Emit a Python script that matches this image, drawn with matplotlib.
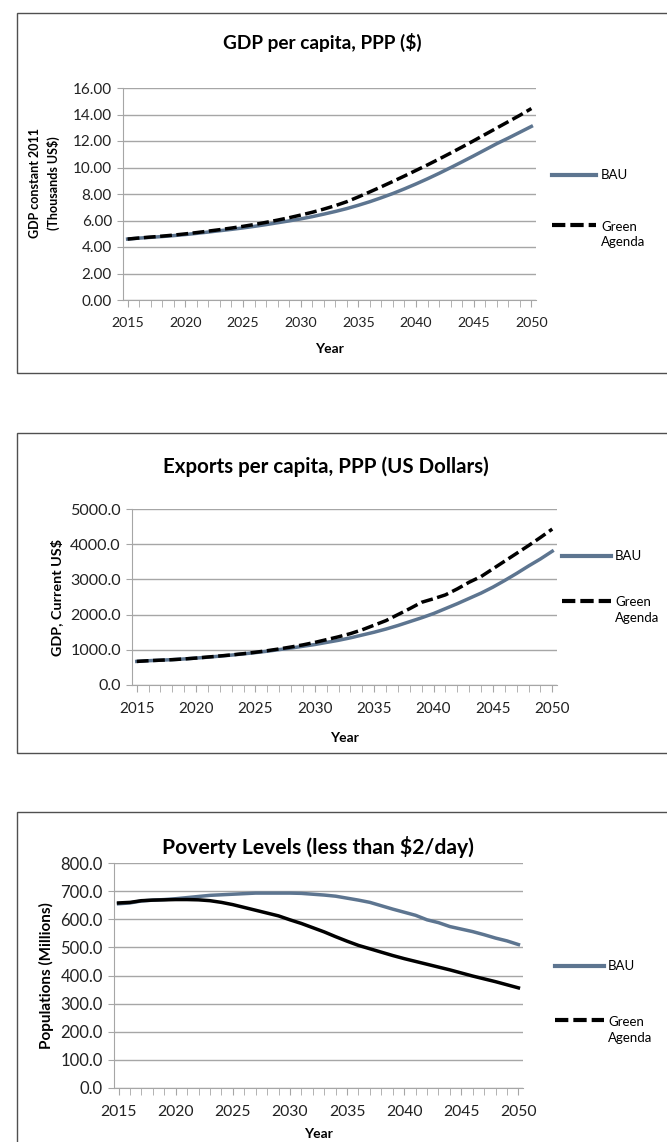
import matplotlib as mpl
import matplotlib.pyplot as plt
from matplotlib.lines import Line2D
from matplotlib.patches import Rectangle
import numpy as np

# Data
years = np.arange(2015, 2051)

gdp_bau = [4.60, 4.67, 4.73, 4.79, 4.86, 4.94, 5.03, 5.13, 5.23, 5.33, 5.44, 5.56,
           5.69, 5.83, 5.97, 6.12, 6.29, 6.48, 6.68, 6.90, 7.15, 7.42, 7.72, 8.04,
           8.39, 8.76, 9.15, 9.56, 9.99, 10.43, 10.88, 11.34, 11.80, 12.22, 12.66, 13.10]
gdp_green = [4.60, 4.68, 4.75, 4.82, 4.90, 4.99, 5.09, 5.20, 5.31, 5.43, 5.56, 5.70,
             5.86, 6.03, 6.21, 6.41, 6.62, 6.86, 7.12, 7.42, 7.78, 8.16, 8.55, 8.95,
             9.36, 9.78, 10.20, 10.64, 11.09, 11.55, 12.02, 12.50, 12.98, 13.46, 13.94, 14.45]

exp_bau = [670, 690, 705, 720, 740, 765, 790, 820, 850, 885, 920, 960,
           1005, 1050, 1100, 1150, 1210, 1270, 1340, 1420, 1500, 1590, 1690, 1800,
           1910, 2030, 2170, 2310, 2460, 2610, 2780, 2970, 3170, 3380, 3580, 3800]
exp_green = [670, 690, 705, 720, 740, 765, 795, 825, 855, 890, 930, 975,
             1025, 1080, 1140, 1210, 1290, 1370, 1460, 1570, 1700, 1830, 2000, 2170,
             2350, 2450, 2560, 2730, 2920, 3080, 3300, 3520, 3740, 3960, 4190, 4430]

pov_bau = [655, 658, 665, 668, 670, 673, 677, 681, 685, 687, 689, 691,
           693, 693, 693, 693, 692, 689, 686, 682, 675, 668, 660, 648,
           636, 625, 614, 598, 588, 574, 565, 556, 545, 533, 523, 510]
pov_green = [658, 660, 666, 668, 669, 670, 670, 669, 666, 660, 652, 642,
             632, 622, 612, 598, 585, 570, 555, 538, 522, 507, 495, 483,
             471, 460, 450, 440, 430, 420, 409, 398, 388, 378, 367, 356]

series_names = ['BAU', 'Green\nAgenda']

# Style
mpl.rcParams['font.family'] = ['Lato', 'DejaVu Sans']
bau_clr = '#5d7590'
grid_clr = '#a6a6a6'
dash = (0, (3.4, 1.3))
W, H = 667, 1142

fig = plt.figure(figsize=(W / 100, H / 100), dpi=100)


def fx(x):
    return x / W


def fy(y):
    return 1 - y / H


def fig_rect(x0, y0, x1, y1):
    # pixel box (top-left origin) -> figure fraction [l, b, w, h]
    return [fx(x0), fy(y1), (x1 - x0) / W, (y1 - y0) / H]


# panel frames
for (y0, y1) in [(13, 373), (433, 753), (812, 1160)]:
    fig.patches.append(Rectangle((fx(17), fy(y1)), (W + 10 - 17) / W, (y1 - y0) / H,
                                 transform=fig.transFigure, fill=False,
                                 edgecolor='#505050', linewidth=1.0))

panels = [
    dict(rect=(123, 88, 536, 300), bau=gdp_bau, green=gdp_green, ymax=16, ystep=2, fmt='%.2f',
         title='GDP per capita, PPP ($)', title_xy=(322, 42), tsize=13.7,
         ylabel='GDP constant 2011\n(Thousands US$)', ylsize=9, yt_size=11, xt_size=10.2,
         ylab_xy=(-0.152, 0.55), green_ls=dash, year_y=349,
         leg_x=(552, 596, 601), leg_y=(175, 225, 227, 242)),
    dict(rect=(132, 509, 557, 685), bau=exp_bau, green=exp_green, ymax=5000, ystep=1000, fmt='%.1f',
         title='Exports per capita, PPP (US Dollars)', title_xy=(326, 467), tsize=14.8,
         ylabel='GDP, Current US$', ylsize=10.4, yt_size=11.6, xt_size=11,
         ylab_xy=None, green_ls=dash, year_y=738,
         leg_x=(562, 611, 615), leg_y=(556, 601, 602, 618)),
    dict(rect=(114, 863, 523, 1088), bau=pov_bau, green=pov_green, ymax=800, ystep=100, fmt='%.1f',
         title='Poverty Levels (less than $2/day)', title_xy=(318, 847), tsize=15.2,
         ylabel='Populations (Millions)', ylsize=11, yt_size=12, xt_size=11.3,
         ylab_xy=None, green_ls='-', year_y=1134,
         leg_x=(555, 604, 608), leg_y=(966, 1020, 1022, 1038)),
]

for p in panels:
    ax = fig.add_axes(fig_rect(*p['rect']))
    ax.plot(years, p['bau'], color=bau_clr, lw=2.5, zorder=3)
    ax.plot(years, p['green'], color='black', lw=2.5, ls=p['green_ls'], zorder=4)

    ax.set_xlim(2014.6, 2050.4)
    ax.set_ylim(0, p['ymax'])
    yt = np.arange(0, p['ymax'] + p['ystep'] / 2, p['ystep'])
    ax.set_yticks(yt)
    ax.set_yticklabels([p['fmt'] % v for v in yt])
    ax.set_xticks(np.arange(2015, 2051, 5))
    ax.set_xticks(years, minor=True)
    ax.grid(axis='y', color=grid_clr, lw=1.0)
    ax.set_axisbelow(True)
    for s in ['top', 'right']:
        ax.spines[s].set_visible(False)
    for s in ['left', 'bottom']:
        ax.spines[s].set_color(grid_clr)
    ax.tick_params(axis='y', length=4, color=grid_clr, labelsize=p['yt_size'], pad=4,
                   labelcolor='#222222')
    ax.tick_params(axis='x', which='both', length=5, color=grid_clr, labelsize=p['xt_size'],
                   pad=7, labelcolor='#222222')
    ax.set_ylabel(p['ylabel'], fontsize=p['ylsize'], fontweight='bold', labelpad=5,
                  linespacing=1.55)
    if p['ylab_xy'] is not None:
        ax.yaxis.set_label_coords(*p['ylab_xy'])

    x0, y0, x1, y1 = p['rect']
    tx, ty = p['title_xy']
    fig.text(fx(tx), fy(ty), p['title'], ha='center', va='center',
             fontsize=p['tsize'], fontweight='bold')
    fig.text(fx(0.5 * (x0 + x1)), fy(p['year_y']), 'Year', ha='center', va='center',
             fontsize=10, fontweight='bold')

    # legend, drawn to the right of the plot area
    lx0, lx1, ltx = p['leg_x']
    ly_bau, ly_green, ly_t1, ly_t2 = p['leg_y']
    fig.add_artist(Line2D([fx(lx0), fx(lx1)], [fy(ly_bau)] * 2, color=bau_clr, lw=3,
                          transform=fig.transFigure))
    fig.add_artist(Line2D([fx(lx0), fx(lx1)], [fy(ly_green)] * 2, color='black', lw=3,
                          ls=(0, (3.2, 1.2)), transform=fig.transFigure))
    fig.text(fx(ltx), fy(ly_bau), series_names[0], ha='left', va='center', fontsize=9.5)
    for line, yy in zip(series_names[1].split('\n'), [ly_t1, ly_t2]):
        fig.text(fx(ltx), fy(yy), line, ha='left', va='center', fontsize=9.5)

fig.savefig('out.png', dpi=100)
